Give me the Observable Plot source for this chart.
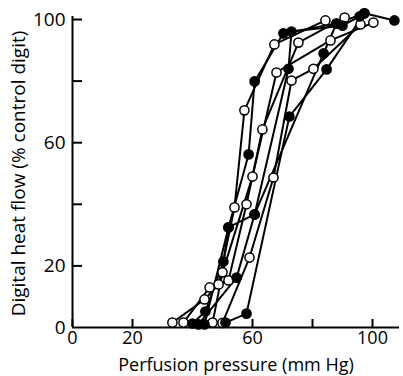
<!DOCTYPE html>
<html>
<head>
<meta charset="utf-8">
<script src="https://cdn.jsdelivr.net/npm/d3@7"></script>
<script src="https://cdn.jsdelivr.net/npm/@observablehq/plot@0.6"></script>
<style>
  html, body { margin: 0; padding: 0; background: #fff; }
  #chart svg { display: block; }
</style>
</head>
<body>
<div id="chart"></div>
<script>
// Tick labels
const xTickValues = [0, 20, 40, 60, 80, 100];
const xTickLabels = [0, 20, 60, 100];
const yTickValues = [20, 40, 60, 80, 100];
const yTickLabels = [0, 20, 60, 100];
const xTitle = "Perfusion pressure (mm Hg)";
const yTitle = "Digital heat flow (% control digit)";

// Series: marker kind, perfusion pressure (mm Hg), heat flow (% control)
const seriesKind = ["open", "open", "open", "open", "filled", "filled", "filled", "filled"];
const pressure = [
  [33.3, 44, 48.7, 54, 57.3, 67.3, 84.3],
  [37, 45.7, 52, 58, 63.3, 75.3, 90.7],
  [46.7, 50, 60, 68, 86, 100.3],
  [50, 59, 67, 73, 80.3, 96],
  [40, 44.3, 50.3, 52, 58.7, 60.7, 70.3, 88, 97.3, 107.3],
  [42, 54.7, 60.7, 72, 73, 90, 95.7],
  [51, 58, 72.3, 84.7, 97.3],
  [44, 52, 60.7, 83.7, 88]
];
const flow = [
  [1.6, 9.1, 14, 39, 70.5, 91.9, 99.7],
  [1.6, 13, 15.3, 40, 64.3, 92.5, 100.6],
  [1.6, 17.9, 49, 82.8, 93.2, 99],
  [1.5, 22.7, 48.7, 80.2, 84, 98.4],
  [1.3, 5.2, 21.4, 32.5, 56.2, 79.9, 95.5, 98.7, 102, 99.7],
  [1, 16.2, 36.7, 84, 96.1, 98, 101],
  [1.6, 4.5, 68.5, 83.8, 102],
  [1, 32.5, 36.7, 89, 98.7]
];

const rows = [];
seriesKind.forEach((kind, i) => {
  pressure[i].forEach((p, j) => rows.push({series: i, kind, p, f: flow[i][j]}));
});

const W = 403, H = 376;
const mL = 72, mR = 4, mT = 19, mB = 49;
const plotW = W - mL - mR, plotH = H - mT - mB;
const font = "'Open Sans', Lato, sans-serif";

const chart = Plot.plot({
  width: W,
  height: H,
  marginLeft: mL,
  marginRight: mR,
  marginTop: mT,
  marginBottom: mB,
  style: {fontFamily: font, fontSize: "18px", color: "#000", background: "#fff", overflow: "visible"},
  x: {domain: [0, 109]},
  y: {domain: [0, 100]},
  marks: [
    // axis lines
    Plot.ruleX([0], {stroke: "#000", strokeWidth: 2, y1: 0, y2: 101}),
    Plot.ruleY([0], {stroke: "#000", strokeWidth: 2}),
    // inward ticks
    Plot.tickY(yTickValues, {y: d => d, stroke: "#000", strokeWidth: 2, insetRight: plotW - 10}),
    Plot.tickX(xTickValues, {x: d => d, stroke: "#000", strokeWidth: 2, insetTop: plotH - 8}),
    // tick labels
    Plot.axisY({ticks: yTickLabels, tickSize: 0, tickPadding: 7, label: null, fontSize: 19}),
    Plot.axisX({ticks: xTickLabels, tickSize: 0, tickPadding: 4, label: null, fontSize: 18}),
    // titles
    Plot.text([yTitle], {frameAnchor: "left", textAnchor: "middle", lineAnchor: "middle", rotate: -90, dx: -54, fontSize: 19, text: d => d}),
    Plot.text([xTitle], {frameAnchor: "bottom", textAnchor: "middle", lineAnchor: "middle", dy: 38, fontSize: 18, text: d => d}),
    // data
    Plot.line(rows, {x: "p", y: "f", z: "series", stroke: "#000", strokeWidth: 2}),
    Plot.dot(rows, {x: "p", y: "f", r: 4.6, stroke: "#000", strokeWidth: 1.5,
      fill: d => d.kind === "filled" ? "#000" : "#fff"})
  ]
});
document.getElementById("chart").appendChild(chart);
</script>
</body>
</html>
